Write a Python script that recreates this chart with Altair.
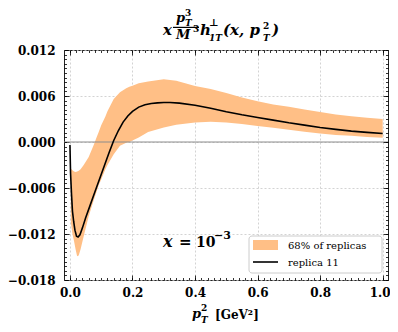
import altair as alt
import pandas as pd
import numpy as np

# ---------------- data (values in units of 1e-3) ----------------
x_line = [0.0, 0.002, 0.005, 0.008, 0.012, 0.016, 0.021, 0.026, 0.032, 0.04, 0.05,
          0.065, 0.08, 0.095, 0.11, 0.125, 0.14, 0.155, 0.17, 0.185, 0.2, 0.22, 0.24,
          0.26, 0.28, 0.3, 0.32, 0.35, 0.4, 0.45, 0.5, 0.55, 0.6, 0.65, 0.7, 0.75, 0.8,
          0.85, 0.9, 0.95, 1.0]
y_line = [-0.4, -4.1, -6.8, -9.0, -10.4, -11.5, -12.3, -12.4, -12.1, -11.2, -9.9,
          -8.2, -6.5, -4.8, -3.1, -1.4, 0.2, 1.5, 2.6, 3.4, 4.0, 4.55, 4.85,
          5.02, 5.1, 5.15, 5.15, 5.07, 4.8, 4.4, 3.95, 3.55, 3.2, 2.85, 2.5, 2.2, 1.9,
          1.65, 1.42, 1.25, 1.1]

x_band = [0.003, 0.008, 0.013, 0.018, 0.023, 0.028, 0.034, 0.044, 0.06, 0.076, 0.085,
          0.092, 0.1, 0.113, 0.12, 0.14, 0.16, 0.18, 0.19, 0.2, 0.22, 0.25, 0.3, 0.34,
          0.4, 0.45, 0.5, 0.55, 0.6, 0.65, 0.7, 0.75, 0.8, 0.85, 0.9, 0.95, 1.0]
band_upper = [-3.5, -3.7, -3.85, -3.9, -3.85, -3.75, -3.55, -3.0, -1.95, -0.4, 0.6,
              1.3, 2.2, 3.3, 4.0, 5.6, 6.5, 7.0, 7.2, 7.35, 7.65, 7.9, 8.2, 8.0,
              7.3, 6.9, 6.4, 5.8, 5.3, 4.9, 4.6, 4.25, 3.9, 3.6, 3.35, 3.15, 3.0]
band_lower = [-10.5, -12.0, -12.9, -14.0, -14.9, -14.8, -14.0, -12.3, -9.7, -7.6, -6.5,
              -5.6, -4.9, -3.6, -3.0, -1.6, -0.5, -0.1, 0.0, 0.2, 0.6, 1.3, 1.9, 2.25,
              2.55, 2.65, 2.55, 2.35, 2.1, 1.85, 1.6, 1.35, 1.1, 0.9, 0.8, 0.65, 0.55]

legend_labels = ["68% of replicas", "replica 11"]
x_major = [0.0, 0.2, 0.4, 0.6, 0.8, 1.0]
y_major = [-0.018, -0.012, -0.006, 0.0, 0.006, 0.012]
x_minor = [float(v) for v in np.round(np.arange(0, 1.0001, 0.02), 2)]
y_minor = [float(v) for v in np.round(np.arange(-0.018, 0.01201, 0.0006), 4)]

line_df = pd.DataFrame({"x": x_line, "y": np.array(y_line) * 1e-3})
band_df = pd.DataFrame({"x": x_band,
                        "lo": np.array(band_lower) * 1e-3,
                        "hi": np.array(band_upper) * 1e-3})

W, H = 324, 230
FONT = "DejaVu Serif"
ORANGE = "#ffbf86"

xs = alt.Scale(domain=[-0.019, 1.017], nice=False, zero=False)
ys = alt.Scale(domain=[-0.018, 0.012], nice=False, zero=False)

XFMT = "format(datum.value, '.1f')"
YFMT = "datum.value < 0 ? '\u2212' + format(-datum.value, '.3f') : format(datum.value, '.3f')"


def ax(orient, values, major, labels=False, grid=False, expr=None, pad=0):
    kw = dict(orient=orient, values=values, title=None, domain=False,
              ticks=True, tickSize=alt.ExprRef(expr="-5" if major else "-2.5"),
              tickColor="black", tickWidth=0.8, grid=grid, labels=labels,
              zindex=0 if grid else 1)
    if grid:
        kw.update(gridColor="#c8c8c8", gridDash=[2, 2], gridWidth=0.8)
    if labels:
        kw.update(labelExpr=expr, labelFont=FONT, labelFontWeight="bold",
                  labelFontSize=12, labelColor="black", labelPadding=pad,
                  labelFlush=False, labelOverlap=False)
        if orient == "bottom":
            kw.update(labelOffset={"condition": {"test": "datum.value >= 0.99", "value": -3},
                                   "value": 0})
    return alt.Axis(**kw)


band = alt.Chart(band_df).mark_area(color=ORANGE, opacity=1).encode(
    x=alt.X("x:Q", scale=xs, axis=ax("bottom", x_major, True, True, True, XFMT, 12)),
    y=alt.Y("lo:Q", scale=ys, axis=ax("left", y_major, True, True, True, YFMT, 14)),
    y2="hi:Q",
)

zero = alt.Chart(pd.DataFrame({"y": [0.0]})).mark_rule(color="#8c8c8c", strokeWidth=1).encode(
    y=alt.Y("y:Q", scale=ys, axis=None)
)

line = alt.Chart(line_df).mark_line(color="black", strokeWidth=1.6).encode(
    x=alt.X("x:Q", scale=xs, axis=ax("bottom", x_minor, False)),
    y=alt.Y("y:Q", scale=ys, axis=ax("left", y_minor, False)),
)

top_major = alt.Chart(line_df).mark_point(opacity=0).encode(
    x=alt.X("x:Q", scale=xs, axis=ax("top", x_major, True)),
    y=alt.Y("y:Q", scale=ys, axis=ax("right", y_major, True)),
)
top_minor = alt.Chart(line_df).mark_point(opacity=0).encode(
    x=alt.X("x:Q", scale=xs, axis=ax("top", x_minor, False)),
    y=alt.Y("y:Q", scale=ys, axis=ax("right", y_minor, False)),
)

one = pd.DataFrame({"a": [0]})


def txt(s, x, y, size, italic=False, bold=True):
    return alt.Chart(one).mark_text(
        text=s, font=FONT, fontSize=size, fontStyle="italic" if italic else "normal",
        fontWeight="bold" if bold else "normal", align="left", baseline="alphabetic",
        color="black",
    ).encode(x=alt.value(x), y=alt.value(y))


# title  x * p_T^3 / M^3 * h_1T^perp(x, p_T^2)
title_parts = [
    txt("x", 99, -15, 15, True),
    txt("p", 112, -28, 13, True),
    txt("3", 121, -34.5, 9),
    txt("T", 121, -24.5, 9, True),
    txt("M", 112, -11.5, 13, True),
    txt("3", 129, -18.5, 9),
    txt("h", 136, -15, 15, True),
    txt("\u22a5", 145, -24, 10),
    txt("1T", 145, -9, 9, True),
    txt("(x, p", 159, -15, 15, True),
    txt("2", 199, -21, 9),
    txt("T", 199, -9, 9, True),
    txt(")", 208, -15, 15, True),
]
frac_bar = alt.Chart(one).mark_rect(color="black").encode(
    x=alt.value(109), x2=alt.value(135), y=alt.value(-23.2), y2=alt.value(-22))

# x-axis title  p_T^2 [GeV^2]
xtitle = [
    txt("p", 128, 268, 13, True),
    txt("2", 137, 261, 9),
    txt("T", 137, 273, 9, True),
    txt("[GeV\u00b2]", 151, 269, 12),
]

# annotation x = 10^-3
annot = [
    txt("x", 99, 197, 16, True),
    txt("=", 115, 197, 15),
    txt("10", 132, 197, 14),
    txt("\u22123", 150, 189, 11),
]

# legend
leg_box = alt.Chart(one).mark_rect(fill="white", stroke="#cccccc", strokeWidth=1,
                                   cornerRadius=3).encode(
    x=alt.value(185), x2=alt.value(318), y=alt.value(186), y2=alt.value(223))
leg_sw = alt.Chart(one).mark_rect(fill=ORANGE).encode(
    x=alt.value(189), x2=alt.value(214), y=alt.value(190), y2=alt.value(200))
leg_ln = alt.Chart(one).mark_rule(color="black", strokeWidth=1.6).encode(
    x=alt.value(189), x2=alt.value(214), y=alt.value(212))
leg_t1 = txt(legend_labels[0], 224, 199, 10, bold=False)
leg_t2 = txt(legend_labels[1], 224, 216, 10, bold=False)

chart = alt.layer(
    band, zero, line, top_major, top_minor,
    leg_box, leg_sw, leg_ln, leg_t1, leg_t2, frac_bar,
    *title_parts, *xtitle, *annot,
).resolve_axis(x="independent", y="independent").properties(
    width=W, height=H,
    autosize=alt.AutoSizeParams(type="none"),
    padding={"left": 56, "top": 42, "right": 2, "bottom": 44},
).configure_view(stroke="#222222", strokeWidth=1)

chart.save("out.html", embed_options={"renderer": "svg", "actions": False})
